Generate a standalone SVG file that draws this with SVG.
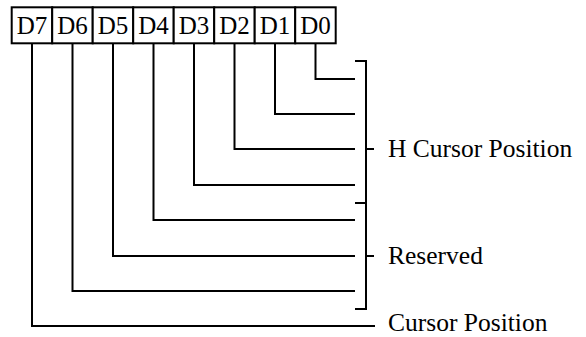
<svg xmlns="http://www.w3.org/2000/svg" width="586" height="337" viewBox="0 0 586 337">
<style>
.cell{fill:#fff;stroke:#000;stroke-width:2}
.bit{font-family:"Liberation Serif","Times New Roman",serif;font-size:25px;fill:#000;text-anchor:middle}
.lbl{font-family:"Liberation Serif","Times New Roman",serif;font-size:25.5px;fill:#000}
.wire{fill:none;stroke:#000;stroke-width:2;stroke-linecap:butt;stroke-linejoin:miter}
</style>
<rect width="586" height="337" fill="#fff"/>
<g id="bit-D7"><rect class="cell" x="11.7" y="7.3" width="40.5" height="36"/><text class="bit" x="31.95" y="34">D7</text></g>
<g id="bit-D6"><rect class="cell" x="52.2" y="7.3" width="40.5" height="36"/><text class="bit" x="72.45" y="34">D6</text></g>
<g id="bit-D5"><rect class="cell" x="92.7" y="7.3" width="40.5" height="36"/><text class="bit" x="112.95" y="34">D5</text></g>
<g id="bit-D4"><rect class="cell" x="133.2" y="7.3" width="40.5" height="36"/><text class="bit" x="153.45" y="34">D4</text></g>
<g id="bit-D3"><rect class="cell" x="173.7" y="7.3" width="40.5" height="36"/><text class="bit" x="193.95" y="34">D3</text></g>
<g id="bit-D2"><rect class="cell" x="214.2" y="7.3" width="40.5" height="36"/><text class="bit" x="234.45" y="34">D2</text></g>
<g id="bit-D1"><rect class="cell" x="254.7" y="7.3" width="40.5" height="36"/><text class="bit" x="274.95" y="34">D1</text></g>
<g id="bit-D0"><rect class="cell" x="295.2" y="7.3" width="40.5" height="36"/><text class="bit" x="315.45" y="34">D0</text></g>
<g id="connectors">
<path class="wire" d="M315.5 43.3 V79 H355"/>
<path class="wire" d="M275 43.3 V114 H355"/>
<path class="wire" d="M234.5 43.3 V149 H355"/>
<path class="wire" d="M194 43.3 V185 H355"/>
<path class="wire" d="M153.5 43.3 V220 H355"/>
<path class="wire" d="M113 43.3 V256 H355"/>
<path class="wire" d="M72.5 43.3 V291 H355"/>
<path class="wire" d="M32 43.3 V326 H375"/>
</g>
<g id="h-cursor-position">
<path class="wire" d="M355 61 H366 V203 H355 M366 149 H374"/>
<text class="lbl" x="388" y="157">H Cursor Position</text>
</g>
<g id="reserved">
<path class="wire" d="M366 203 V309 H355 M366 256 H374"/>
<text class="lbl" x="388" y="264">Reserved</text>
</g>
<g id="cursor-position">
<text class="lbl" x="388" y="331">Cursor Position</text>
</g>
</svg>
